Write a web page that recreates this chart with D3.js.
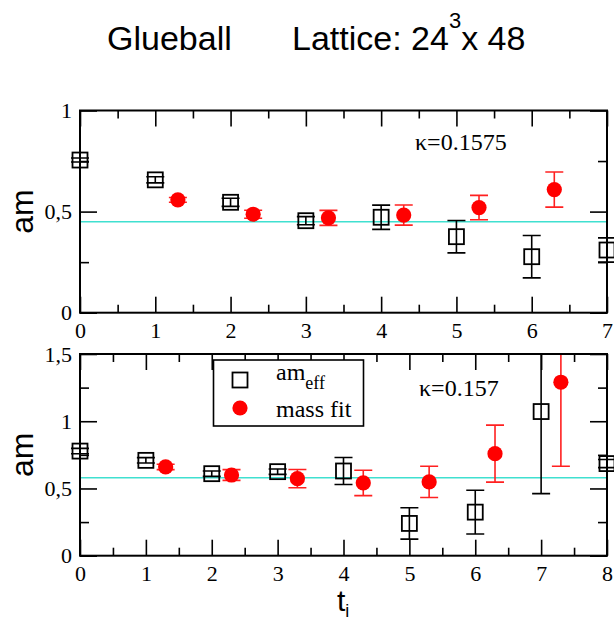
<!DOCTYPE html>
<html><head><meta charset="utf-8">
<script src="https://cdn.jsdelivr.net/npm/d3@7"></script>
<style>body{margin:0;background:#fff}</style>
</head><body>
<svg id="c" width="614" height="623"></svg>
<script>
// ---- data ----
const tTop = [0,1,2,3,4,5,6,7];
const effTop = [0.755,0.657,0.546,0.455,0.472,0.376,0.277,0.31];
const effTopErr = [0.01,0.015,0.02,0.02,0.06,0.08,0.105,0.06];
const fitTopT = [1.3,2.3,3.3,4.3,5.3,6.3];
const fitTop = [0.558,0.487,0.469,0.483,0.52,0.609];
const fitTopErr = [0.012,0.02,0.037,0.05,0.06,0.087];
const plateauTop = 0.45;
const kappaTop = "κ=0.1575";

const tBot = [0,1,2,3,4,5,6,7,8];
const effBot = [0.778,0.709,0.610,0.625,0.630,0.240,0.324,1.072,0.685];
const effBotErr = [0.02,0.02,0.02,0.02,0.1,0.117,0.163,0.61,0.03];
const fitBotT = [1.3,2.3,3.3,4.3,5.3,6.3,7.3];
const fitBot = [0.66,0.600,0.573,0.541,0.549,0.759,1.29];
const fitBotErr = [0.02,0.04,0.068,0.094,0.116,0.212,0.625];
const plateauBot = 0.58;
const kappaBot = "κ=0.157";

const xTicksTop = [0,1,2,3,4,5,6,7];
const xTicksBot = [0,1,2,3,4,5,6,7,8];
const yTicksTop = [0,0.5,1];
const yTicksBot = [0,0.5,1,1.5];
const legendLabels = ["am", "mass fit"];

// ---- drawing ----
const svg = d3.select("#c");
const SERIF = "'Liberation Serif','Times New Roman',serif";
const SANS = "'Liberation Sans',Arial,sans-serif";
const L = 80, R = 607;
const fmt = d => String(d).replace(".", ",");

function panel(opt) {
  const {top, bottom, xmax, ymax, xT, yT, yMinorStep, id} = opt;
  const x = d3.scaleLinear().domain([0, xmax]).range([L, R]);
  const y = d3.scaleLinear().domain([0, ymax]).range([bottom, top]);
  const g = svg.append("g");
  const xMinor = d3.range(0.5, xmax, 1);
  const yMinor = d3.range(yMinorStep, ymax, yMinorStep).filter(v => Math.abs(v/0.5 - Math.round(v/0.5)) > 1e-6);

  function styleAxis(sel) {
    sel.select(".domain").remove();
    sel.selectAll("line").attr("stroke", "#000").attr("stroke-width", 1.6);
    sel.selectAll("text").attr("font-family", SERIF).attr("font-size", 22).attr("fill", "#000");
  }
  g.append("g").attr("transform", `translate(0,${bottom})`)
    .call(d3.axisBottom(x).tickValues(xT).tickSize(-16).tickPadding(10).tickFormat(d3.format("d"))).call(styleAxis);
  g.append("g").attr("transform", `translate(0,${bottom})`)
    .call(d3.axisBottom(x).tickValues(xMinor).tickSize(-8).tickFormat("")).call(styleAxis);
  g.append("g").attr("transform", `translate(0,${top})`)
    .call(d3.axisTop(x).tickValues(xT).tickSize(-16).tickFormat("")).call(styleAxis);
  g.append("g").attr("transform", `translate(0,${top})`)
    .call(d3.axisTop(x).tickValues(xMinor).tickSize(-8).tickFormat("")).call(styleAxis);
  g.append("g").attr("transform", `translate(${L},0)`)
    .call(d3.axisLeft(y).tickValues(yT).tickSize(-17).tickPadding(8).tickFormat(fmt)).call(styleAxis);
  g.append("g").attr("transform", `translate(${L},0)`)
    .call(d3.axisLeft(y).tickValues(yMinor).tickSize(-9).tickFormat("")).call(styleAxis);
  g.append("g").attr("transform", `translate(${R},0)`)
    .call(d3.axisRight(y).tickValues(yT).tickSize(-17).tickFormat("")).call(styleAxis);
  g.append("g").attr("transform", `translate(${R},0)`)
    .call(d3.axisRight(y).tickValues(yMinor).tickSize(-9).tickFormat("")).call(styleAxis);

  // plateau line
  g.append("line").attr("x1", L).attr("x2", R).attr("y1", y(opt.plateau)).attr("y2", y(opt.plateau))
    .attr("stroke", "#40E0D0").attr("stroke-width", 1.6);

  // clip for error bars
  svg.append("clipPath").attr("id", id).append("rect")
    .attr("x", L - 20).attr("y", top).attr("width", R - L + 40).attr("height", bottom - top);
  const eb = g.append("g").attr("clip-path", `url(#${id})`);
  const cap = 9;
  function errBars(ts, vs, es, color, w) {
    ts.forEach((t, i) => {
      const cx = x(t), y1 = y(vs[i] + es[i]), y2 = y(vs[i] - es[i]);
      eb.append("line").attr("x1", cx).attr("x2", cx).attr("y1", y1).attr("y2", y2).attr("stroke", color).attr("stroke-width", w);
      [y1, y2].forEach(yy => eb.append("line").attr("x1", cx - cap).attr("x2", cx + cap).attr("y1", yy).attr("y2", yy).attr("stroke", color).attr("stroke-width", w));
    });
  }
  errBars(opt.tEff, opt.eff, opt.effErr, "#000", 1.6);
  errBars(opt.tFit, opt.fit, opt.fitErr, "#ff2020", 1.6);

  g.selectAll(null).data(opt.tEff.map((t, i) => [t, opt.eff[i]])).join("rect")
    .attr("x", d => x(d[0]) - 7.5).attr("y", d => y(d[1]) - 7.5).attr("width", 15).attr("height", 15)
    .attr("fill", "none").attr("stroke", "#000").attr("stroke-width", 1.8);
  g.selectAll(null).data(opt.tFit.map((t, i) => [t, opt.fit[i]])).join("circle")
    .attr("cx", d => x(d[0])).attr("cy", d => y(d[1])).attr("r", 7.6).attr("fill", "#ff0000");

  // frame
  g.append("rect").attr("x", L).attr("y", top).attr("width", R - L).attr("height", bottom - top)
    .attr("fill", "none").attr("stroke", "#000").attr("stroke-width", 2);

  // kappa
  g.append("text").attr("x", opt.kx).attr("y", opt.ky).attr("font-family", SERIF).attr("font-size", 24).text(opt.kappa);

  // y label
  g.append("text").attr("transform", `translate(33,${(top + bottom) / 2}) rotate(-90)`)
    .attr("text-anchor", "middle").attr("font-family", SANS).attr("font-size", 32).text("am");
  return {x, y};
}

panel({top: 110.5, bottom: 312.7, xmax: 7, ymax: 1, xT: xTicksTop, yT: yTicksTop, yMinorStep: 0.25, id: "cp1",
  tEff: tTop, eff: effTop, effErr: effTopErr, tFit: fitTopT, fit: fitTop, fitErr: fitTopErr, plateau: plateauTop,
  kappa: kappaTop, kx: 415, ky: 150});
panel({top: 354, bottom: 555.7, xmax: 8, ymax: 1.5, xT: xTicksBot, yT: yTicksBot, yMinorStep: 0.25, id: "cp2",
  tEff: tBot, eff: effBot, effErr: effBotErr, tFit: fitBotT, fit: fitBot, fitErr: fitBotErr, plateau: plateauBot,
  kappa: kappaBot, kx: 419, ky: 396});

// legend
const lg = svg.append("g");
lg.append("rect").attr("x", 213.5).attr("y", 360).attr("width", 150).attr("height", 66)
  .attr("fill", "#fff").attr("stroke", "#000").attr("stroke-width", 1.6);
lg.append("rect").attr("x", 232.5).attr("y", 372.5).attr("width", 15).attr("height", 15)
  .attr("fill", "none").attr("stroke", "#000").attr("stroke-width", 1.8);
lg.append("circle").attr("cx", 240).attr("cy", 408).attr("r", 7.6).attr("fill", "#ff0000");
const t1 = lg.append("text").attr("x", 276).attr("y", 380).attr("font-family", SERIF).attr("font-size", 24);
t1.append("tspan").text(legendLabels[0]);
t1.append("tspan").attr("dy", 9).attr("font-size", 18).text("eff");
lg.append("text").attr("x", 276).attr("y", 416.5).attr("font-family", SERIF).attr("font-size", 24).text(legendLabels[1]);

// x label
const xl = svg.append("text").attr("x", 337).attr("y", 611).attr("font-family", SANS).attr("font-size", 30);
xl.append("tspan").text("t");
xl.append("tspan").attr("dy", 6).attr("font-size", 18).text("i");

// title
const tt = svg.append("text").attr("y", 50).attr("font-family", SANS).attr("font-size", 34).attr("fill", "#000");
tt.append("tspan").attr("x", 107).text("Glueball");
tt.append("tspan").attr("x", 292).text("Lattice: 24");
tt.append("tspan").attr("dy", -22).attr("font-size", 22).text("3");
tt.append("tspan").attr("dy", 22).text("x 48");
</script>
</body></html>
